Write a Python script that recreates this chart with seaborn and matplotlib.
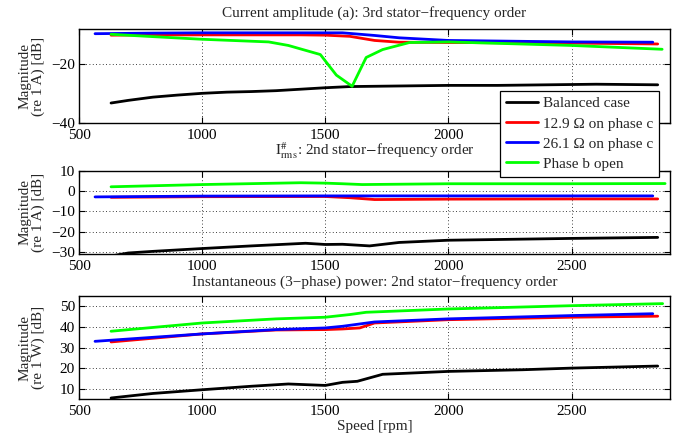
import numpy as np
import pandas as pd
import matplotlib
matplotlib.use("Agg")
import matplotlib.pyplot as plt
import seaborn as sns

sns.set_theme(style="ticks")
plt.rcParams['font.family'] = ['Liberation Serif', 'DejaVu Serif']
plt.rcParams['mathtext.fontset'] = 'stix'
plt.rcParams['axes.unicode_minus'] = True

series_names = ["Balanced case", "12.9 \u03a9 on phase c", "26.1 \u03a9 on phase c", "Phase b open"]
colors = ["#000000", "#ff0000", "#0000ff", "#00ff00"]

# ---- Panel 1: current amplitude, 3rd order ----
p1_black_x = [630, 700, 800, 900, 1000, 1100, 1200, 1300, 1400, 1500, 1600, 1700, 1800, 1900, 2000, 2200, 2400, 2600, 2850]
p1_black_y = [-33.2, -32.3, -31.2, -30.5, -29.9, -29.5, -29.3, -29.0, -28.5, -28.0, -27.6, -27.5, -27.4, -27.3, -27.2, -27.2, -27.0, -26.8, -27.0]
p1_red_x = [630, 800, 1000, 1200, 1400, 1500, 1600, 1700, 1800, 2000, 2500, 2850]
p1_red_y = [-10.1, -10.0, -10.0, -10.0, -10.0, -10.1, -10.5, -11.9, -12.5, -12.6, -12.8, -13.1]
p1_blue_x = [565, 800, 1000, 1200, 1400, 1570, 1700, 1800, 2000, 2500, 2830]
p1_blue_y = [-9.6, -9.4, -9.3, -9.3, -9.3, -9.3, -10.2, -11.0, -11.9, -12.4, -12.5]
p1_green_x = [630, 800, 1000, 1270, 1350, 1480, 1545, 1609, 1666, 1733, 1842, 2000, 2500, 2868]
p1_green_y = [-9.8, -10.6, -11.5, -12.4, -13.6, -16.7, -23.7, -27.5, -17.7, -15.0, -12.6, -12.4, -13.6, -14.9]

# ---- Panel 2: I#rms, 2nd order ----
p2_black_x = [630, 700, 800, 1000, 1200, 1420, 1500, 1570, 1680, 1800, 2000, 2500, 2850]
p2_black_y = [-32.0, -30.5, -29.7, -28.3, -27.0, -25.7, -26.3, -26.2, -27.0, -25.3, -24.2, -23.3, -22.8]
p2_red_x = [630, 1000, 1500, 1600, 1700, 2000, 2500, 2850]
p2_red_y = [-3.0, -2.7, -2.6, -3.2, -4.1, -3.9, -3.8, -3.8]
p2_blue_x = [565, 1000, 1500, 2000, 2500, 2830]
p2_blue_y = [-2.8, -2.4, -2.3, -2.3, -2.3, -2.3]
p2_green_x = [630, 1000, 1400, 1500, 1570, 1650, 2000, 2500, 2880]
p2_green_y = [2.2, 3.3, 4.2, 4.0, 3.7, 3.3, 3.7, 3.7, 3.8]

# ---- Panel 3: instantaneous power, 2nd order ----
p3_black_x = [630, 800, 1000, 1200, 1350, 1500, 1570, 1630, 1733, 2000, 2300, 2500, 2850]
p3_black_y = [5.5, 7.7, 9.5, 11.2, 12.3, 11.6, 13.1, 13.6, 17.0, 18.4, 19.2, 20.0, 21.0]
p3_red_x = [630, 1000, 1300, 1500, 1570, 1640, 1700, 2000, 2500, 2850]
p3_red_y = [32.7, 36.6, 38.5, 38.7, 39.0, 39.5, 41.9, 43.5, 44.7, 45.2]
p3_blue_x = [565, 1000, 1300, 1500, 1570, 1700, 2000, 2500, 2830]
p3_blue_y = [33.0, 36.6, 38.7, 39.5, 40.3, 42.4, 43.9, 45.5, 46.4]
p3_green_x = [630, 1000, 1300, 1500, 1600, 1666, 2000, 2500, 2870]
p3_green_y = [37.9, 41.9, 43.9, 44.7, 46.0, 47.1, 48.7, 50.3, 51.3]

panels = [
    dict(data=[(p1_black_x, p1_black_y), (p1_red_x, p1_red_y), (p1_blue_x, p1_blue_y), (p1_green_x, p1_green_y)],
         title="Current amplitude (a): 3rd stator\u2212frequency order", tpad=8.5,
         ylabel="Magnitude\n(re 1 A) [dB]", ylim=(-40, -8), yticks=[-40, -20],
         pos=[0.1152, 0.7192, 0.8615, 0.2146]),
    dict(data=[(p2_black_x, p2_black_y), (p2_red_x, p2_red_y), (p2_blue_x, p2_blue_y), (p2_green_x, p2_green_y)],
         title=r"$\mathrm{I}^{\#}_{\mathrm{rms}}$: 2nd stator$-$frequency order", tpad=11.5,
         ylabel="Magnitude\n(re 1 A) [dB]", ylim=(-31, 10), yticks=[-30, -20, -10, 0, 10],
         pos=[0.1152, 0.4201, 0.8615, 0.1895]),
    dict(data=[(p3_black_x, p3_black_y), (p3_red_x, p3_red_y), (p3_blue_x, p3_blue_y), (p3_green_x, p3_green_y)],
         title="Instantaneous (3\u2212phase) power: 2nd stator\u2212frequency order", tpad=7.5,
         ylabel="Magnitude\n(re 1 W) [dB]", ylim=(5, 55), yticks=[10, 20, 30, 40, 50],
         pos=[0.1152, 0.0890, 0.8615, 0.2352]),
]

xticks = [500, 1000, 1500, 2000, 2500]
fs = 11

fig = plt.figure(figsize=(6.86, 4.38), dpi=100)
axes = []
for i, p in enumerate(panels):
    ax = fig.add_axes(p["pos"])
    frames = []
    for name, (xs, ys) in zip(series_names, p["data"]):
        frames.append(pd.DataFrame({"Speed": xs, "Mag": ys, "Series": name}))
    df = pd.concat(frames, ignore_index=True)
    sns.lineplot(data=df, x="Speed", y="Mag", hue="Series", hue_order=series_names,
                 palette=colors, linewidth=2.0, ax=ax, legend=(i == 0), sort=False,
                 estimator=None)
    ax.set_xlim(500, 2900)
    ax.set_ylim(*p["ylim"])
    ax.set_xticks(xticks)
    ax.set_yticks(p["yticks"])
    ax.grid(True, color="black", linestyle=(0, (1, 3)), linewidth=0.6)
    ax.tick_params(axis="both", direction="in", top=True, right=True, length=4,
                   labelsize=fs, width=0.8, colors="black")
    ax.tick_params(axis="x", pad=4.0)
    ax.tick_params(axis="y", pad=3)
    for s in ax.spines.values():
        s.set_color("black")
        s.set_linewidth(1.0)
    ax.set_title(p["title"], fontsize=fs, pad=p["tpad"])
    ax.set_ylabel(p["ylabel"], fontsize=fs, linespacing=1.0)
    ax.set_xlabel("")
    axes.append(ax)

axes[-1].set_xlabel("Speed [rpm]", fontsize=fs, labelpad=1.5)
for ax in axes:
    ax.yaxis.set_label_coords(-0.058, 0.5)

handles, labels = axes[0].get_legend_handles_labels()
axes[0].get_legend().remove()
leg = fig.legend(handles, labels, loc="upper right", bbox_to_anchor=(0.9606, 0.793),
                 fontsize=fs, frameon=True, fancybox=False, edgecolor="black",
                 framealpha=1.0, borderpad=0.4, labelspacing=0.42, handlelength=2.1,
                 handletextpad=0.28, borderaxespad=0.0)
leg.get_frame().set_linewidth(0.9)
for h in leg.get_lines():
    h.set_linewidth(2.0)

fig.savefig("out.png", dpi=100)
